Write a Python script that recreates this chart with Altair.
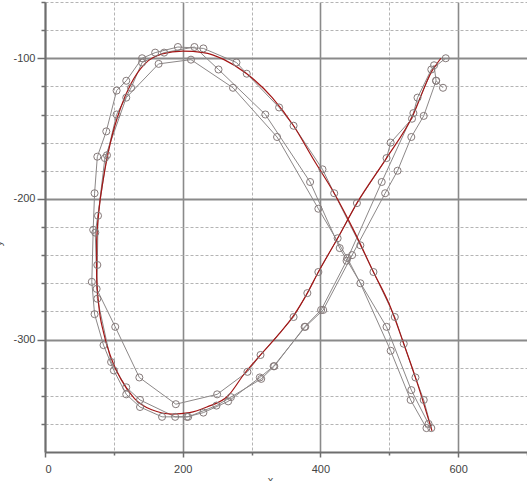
import altair as alt
import pandas as pd

# ---- data ----
t1_x = [561, 550, 538, 521, 508, 477, 458, 420, 403, 361, 340, 293, 278, 230, 193, 160, 141, 118, 104, 89, 76, 72, 70, 68, 72, 85, 100, 118, 138, 170, 206, 230, 266, 312, 332, 378, 404, 446, 494, 512, 532, 550, 568, 578]
t1_y = [-363, -343, -327, -303, -284, -252, -233, -196, -179, -148, -135, -111, -103, -93, -92, -96, -100, -116, -123, -152, -170, -196, -222, -259, -282, -304, -322, -339, -348, -355, -355, -352, -344, -327, -319, -291, -279, -240, -196, -180, -156, -141, -116, -121]

t2_x = [554, 531, 502, 458, 439, 397, 337, 273, 212, 165, 118, 87, 77, 76, 75, 102, 137, 190, 250, 294, 313, 361, 381, 397, 425, 453, 496, 502, 533, 541, 561, 582]
t2_y = [-363, -343, -308, -260, -242, -207, -156, -121, -101, -104, -128, -171, -212, -247, -264, -291, -327, -346, -339, -323, -311, -284, -267, -252, -228, -203, -171, -160, -143, -128, -108, -100]

t3_x = [557, 532, 496, 428, 385, 320, 252, 217, 173, 141, 125, 104, 90, 73, 76, 96, 118, 138, 189, 208, 249, 270, 314, 333, 377, 401, 438, 489, 535, 565, 568]
t3_y = [-360, -336, -291, -235, -188, -140, -108, -92, -96, -103, -121, -140, -169, -224, -271, -316, -334, -343, -355, -355, -347, -341, -328, -319, -291, -279, -244, -188, -139, -105, -116]

red_x = [562, 540, 521, 500, 477, 450, 420, 390, 361, 330, 293, 260, 230, 200, 170, 145, 125, 110, 95, 85, 78, 75, 75, 78, 85, 96, 110, 130, 155, 185, 210, 235, 266, 290, 313, 340, 361, 381, 397, 425, 453, 496, 533, 561, 575]
red_y = [-365, -330, -303, -275, -252, -224, -196, -172, -148, -128, -111, -101, -96, -95, -97, -104, -118, -135, -160, -185, -210, -230, -255, -275, -295, -313, -328, -342, -350, -353, -352, -348, -340, -324, -311, -296, -283, -267, -252, -228, -203, -171, -142, -110, -100]

x_major = [0, 200, 400, 600]
x_minor = [100, 300, 500, 700]
y_major = [-300, -200, -100]
y_minor = [-360, -340, -320, -280, -260, -240, -220, -180, -160, -140, -120, -80, -60]

rows = []
for name, xs_, ys_ in [("t1", t1_x, t1_y), ("t2", t2_x, t2_y), ("t3", t3_x, t3_y)]:
    for i, (a, b) in enumerate(zip(xs_, ys_)):
        rows.append({"trace": name, "order": i, "x": a, "y": b})
gray = pd.DataFrame(rows)
red = pd.DataFrame({"order": range(len(red_x)), "x": red_x, "y": red_y})

xmaj = "indexof(%s, datum.value) >= 0" % str(x_major)
ymaj = "indexof(%s, datum.value) >= 0" % str(y_major)

FONT = "Liberation Sans"

x_axis = alt.Axis(
    values=sorted(x_major + x_minor),
    tickCount=40,
    labelOverlap=False,
    labelExpr="%s ? '' + datum.value : ''" % xmaj,
    grid=True,
    gridColor={"condition": {"test": xmaj, "value": "#8a8a8a"}, "value": "#b4b4b4"},
    gridWidth={"condition": {"test": xmaj, "value": 1.6}, "value": 1},
    gridDash={"condition": {"test": xmaj, "value": [1, 0]}, "value": [3, 2]},
    tickSize={"condition": {"test": xmaj, "value": 5}, "value": 3},
    tickColor="#6e6e6e",
    tickWidth=1.5,
    domainColor="#6e6e6e",
    domainWidth=2,
    labelFont=FONT,
    labelFontSize=11,
    labelColor="#444444",
    labelPadding=6,
    title="x",
    titleFont=FONT,
    titleFontSize=11,
    titleFontWeight="normal",
    titleColor="#555555",
    titleX=225,
    titleY=22,
    titleBaseline="top",
)

y_axis = alt.Axis(
    values=sorted(y_major + y_minor),
    tickCount=40,
    labelOverlap=False,
    labelExpr="%s ? '' + datum.value : ''" % ymaj,
    grid=True,
    gridColor={"condition": {"test": ymaj, "value": "#8a8a8a"}, "value": "#b4b4b4"},
    gridWidth={"condition": {"test": ymaj, "value": 1.8}, "value": 1},
    gridDash={"condition": {"test": ymaj, "value": [1, 0]}, "value": [3, 2]},
    tickSize={"condition": {"test": ymaj, "value": 8}, "value": 4},
    tickColor="#6e6e6e",
    tickWidth=1.5,
    domainColor="#6e6e6e",
    domainWidth=2,
    labelFont=FONT,
    labelFontSize=11,
    labelColor="#444444",
    labelPadding=2,
    title="y",
    titleFont=FONT,
    titleFontSize=11,
    titleFontWeight="normal",
    titleColor="#555555",
    titleX=-42,
    titleY=241,
)

xs = alt.Scale(domain=[0, 700], nice=False, zero=False)
ys = alt.Scale(domain=[-380, -60], nice=False, zero=False)

X = alt.X("x:Q", scale=xs, axis=x_axis)
Y = alt.Y("y:Q", scale=ys, axis=y_axis)

lines = alt.Chart(gray).mark_line(color="#8c8888", strokeWidth=1).encode(
    x=X, y=Y, detail="trace:N", order="order:Q",
)

redline = alt.Chart(red).mark_line(color="#a31515", strokeWidth=1.2, interpolate="monotone").encode(
    x=X, y=Y, order="order:Q",
)

pts = alt.Chart(gray).mark_point(shape="circle", filled=False, size=50, color="#857a7a", strokeWidth=1, opacity=1).encode(
    x=X, y=Y,
)

chart = alt.layer(lines, redline, pts).properties(
    width=482,
    height=450,
    padding={"left": 45, "top": 2, "right": 0, "bottom": 29},
    autosize=alt.AutoSizeParams(type="none"),
    background="white",
).configure_view(stroke=None)

chart.save("out.html", embed_options={"renderer": "svg", "actions": False})
